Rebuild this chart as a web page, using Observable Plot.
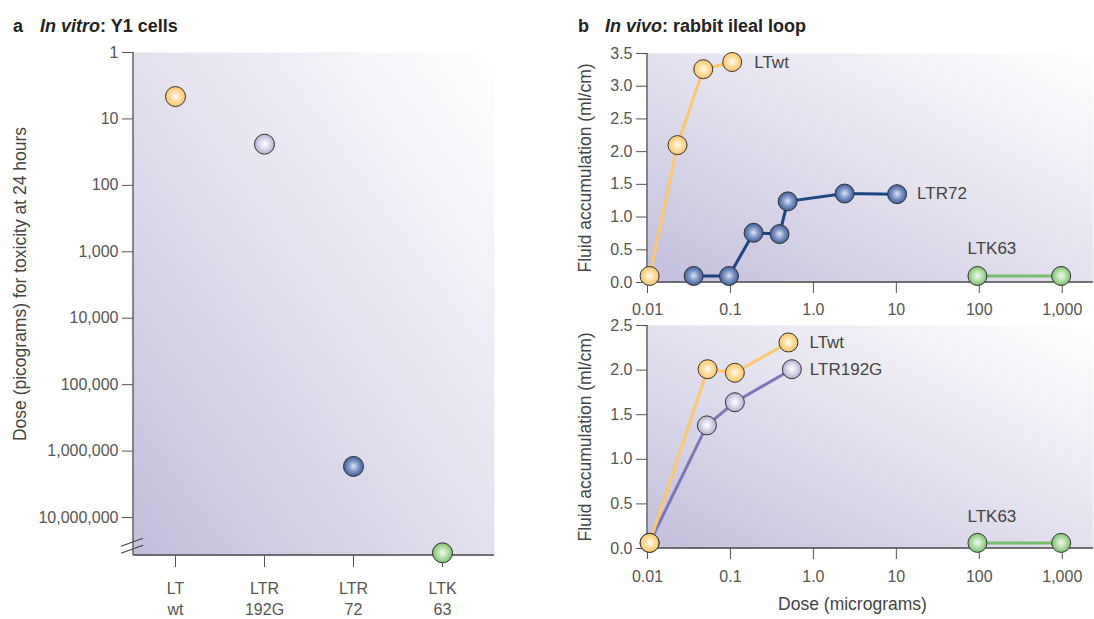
<!DOCTYPE html>
<html><head><meta charset="utf-8">
<script src="https://cdn.jsdelivr.net/npm/d3@7"></script>
<script src="https://cdn.jsdelivr.net/npm/@observablehq/plot@0.6"></script>
<style>
body{margin:0;background:#fff;}
#root{position:relative;width:1094px;height:619px;overflow:hidden;font-family:"Liberation Sans",Arial,sans-serif;}
.panel{position:absolute;}
.title{position:absolute;font-size:18px;font-weight:bold;color:#222;line-height:18px;white-space:nowrap;}
</style></head><body>
<div id="root">
<svg width="0" height="0" style="position:absolute;left:0;top:0">
<defs>
<linearGradient id="bg" x1="0" y1="1" x2="1" y2="0">
<stop offset="0" stop-color="#c3bedb"/>
<stop offset="0.5" stop-color="#e3e1ee"/>
<stop offset="1" stop-color="#ffffff"/>
</linearGradient>
<radialGradient id="dY" cx="0.5" cy="0.5" r="0.5" fx="0.5" fy="0.48">
<stop offset="0" stop-color="#fffaf0"/><stop offset="0.5" stop-color="#fedfa4"/><stop offset="1" stop-color="#fcc567"/>
</radialGradient>
<radialGradient id="dB" cx="0.5" cy="0.5" r="0.5" fx="0.5" fy="0.48">
<stop offset="0" stop-color="#dfe6f4"/><stop offset="0.45" stop-color="#8aa0cb"/><stop offset="1" stop-color="#3e5c9a"/>
</radialGradient>
<radialGradient id="dP" cx="0.5" cy="0.5" r="0.5" fx="0.5" fy="0.48">
<stop offset="0" stop-color="#ffffff"/><stop offset="0.5" stop-color="#dddbeb"/><stop offset="1" stop-color="#b3aed2"/>
</radialGradient>
<radialGradient id="dG" cx="0.5" cy="0.5" r="0.5" fx="0.5" fy="0.48">
<stop offset="0" stop-color="#f0faeb"/><stop offset="0.5" stop-color="#b8e0ae"/><stop offset="1" stop-color="#7cc072"/>
</radialGradient>
</defs></svg>
<div class="title" style="left:13px;top:17px">a</div>
<div class="title" style="left:40px;top:17px"><i>In vitro</i>: Y1 cells</div>
<div class="title" style="left:578px;top:17px">b</div>
<div class="title" style="left:605px;top:17px"><i>In vivo</i>: rabbit ileal loop</div>
<div id="pa" class="panel" style="left:0;top:0"></div>
<div id="pb1" class="panel" style="left:560px;top:0"></div>
<div id="pb2" class="panel" style="left:560px;top:310px"></div>
</div>
<script>
// ---------- Panel a: in vitro ----------
const mutantLabels = ["LT\nwt", "LTR\n192G", "LTR\n72", "LTK\n63"];
const mutantKeys = ["LTwt", "LTR192G", "LTR72", "LTK63"];
const toxicDose = [4.6, 24, 1.7e6, 3.4e7];
const doseTicksA = [1, 10, 100, 1000, 1e4, 1e5, 1e6, 1e7];
const breakValueA = 2.4e7;

// ---------- Panel b (top) ----------
const t_LTwt_dose = [0.0106, 0.023, 0.047, 0.105];
const t_LTwt_fluid = [0.10, 2.10, 3.26, 3.37];
const t_LTR72_dose = [0.036, 0.096, 0.19, 0.39, 0.49, 2.38, 10.2];
const t_LTR72_fluid = [0.10, 0.10, 0.76, 0.74, 1.24, 1.36, 1.35];
const t_LTK63_dose = [95, 970];
const t_LTK63_fluid = [0.10, 0.10];

// ---------- Panel b (bottom) ----------
const b_LTwt_dose = [0.0106, 0.053, 0.113, 0.5];
const b_LTwt_fluid = [0.063, 2.01, 1.97, 2.31];
const b_LTR192G_dose = [0.0106, 0.052, 0.113, 0.55];
const b_LTR192G_fluid = [0.063, 1.38, 1.64, 2.01];
const b_LTK63_dose = [95, 970];
const b_LTK63_fluid = [0.063, 0.063];

const xTicks = [0.01, 0.1, 1, 10, 100, 1000];
const xTickLabels = ["0.01", "0.1", "1.0", "10", "100", "1,000"];
const yTicksTop = [0, 0.5, 1, 1.5, 2, 2.5, 3, 3.5];
const yTicksBottom = [0, 0.5, 1, 1.5, 2, 2.5];

const yLabelA = "Dose (picograms) for toxicity at 24 hours";
const yLabelB = "Fluid accumulation (ml/cm)";
const xLabelB = "Dose (micrograms)";

// styles
const dotFill = {LTwt: "url(#dY)", LTR192G: "url(#dP)", LTR72: "url(#dB)", LTK63: "url(#dG)"};
const lineColor = {LTwt: "#fcc86e", LTR192G: "#7f75b7", LTR72: "#1b4682", LTK63: "#74c06c"};
const FONT = "'Liberation Sans', Arial, sans-serif";
const TXT = "#444";
const TICKFS = 16;

const zip = (xs, ys) => xs.map((x, i) => ({dose: x, fluid: ys[i]}));

const axisLines = (index, scales, values, dims) => {
  const {width, height, marginLeft, marginRight, marginTop, marginBottom} = dims;
  const g = d3.create("svg:g").attr("stroke", "#4a4a4a").attr("stroke-width", 1.3).attr("fill", "none");
  g.append("line").attr("x1", marginLeft).attr("x2", marginLeft).attr("y1", marginTop).attr("y2", height - marginBottom);
  g.append("line").attr("x1", marginLeft).attr("x2", width - marginRight).attr("y1", height - marginBottom).attr("y2", height - marginBottom);
  return g.node();
};

const axisBreak = (yVal) => (index, scales, values, dims) => {
  const y = scales.y(yVal), x = dims.marginLeft;
  const g = d3.create("svg:g").attr("stroke", "#444").attr("stroke-width", 1.1);
  g.append("line").attr("x1", x - 12).attr("y1", y + 4).attr("x2", x + 10).attr("y2", y - 4);
  g.append("line").attr("x1", x - 12).attr("y1", y + 11).attr("x2", x + 10).attr("y2", y + 3);
  return g.node();
};

// ---- Panel a ----
const dataA = mutantLabels.map((m, i) => ({mutant: m, key: mutantKeys[i], dose: toxicDose[i]}));
const plotA = Plot.plot({
  width: 540, height: 619,
  marginTop: 52, marginRight: 46, marginBottom: 64, marginLeft: 133,
  style: {fontFamily: FONT, background: "none", overflow: "visible"},
  x: {type: "point", domain: mutantLabels, padding: 0.52, align: 0.45},
  y: {type: "log", domain: [1, 3.73e7], reverse: true},
  color: {type: "identity"},
  marks: [
    Plot.frame({fill: "url(#bg)", stroke: null}),
    Plot.axisY({ticks: doseTicksA, tickFormat: d3.format(","), tickSize: 11, tickPadding: 4, fontSize: TICKFS, color: "#555", label: null}),
    Plot.axisX({tickFormat: d => d, tickSize: 12, tickPadding: 12, fontSize: TICKFS, lineHeight: 1.3, color: "#555", label: null}),
    axisLines,
    axisBreak(breakValueA),
    Plot.text([yLabelA], {text: d => d, frameAnchor: "left", textAnchor: "middle", rotate: -90, dx: -113, dy: -20, fontSize: 17.5, fill: TXT}),
    Plot.dot(dataA, {x: "mutant", y: "dose", r: 10, fill: d => dotFill[d.key], stroke: "#333", strokeWidth: 1})
  ]
});
document.getElementById("pa").appendChild(plotA);

// ---- Panel b helpers ----
function lineMark(key, data) {
  return Plot.line(data, {x: "dose", y: "fluid", stroke: lineColor[key], strokeWidth: 3});
}
function dotMarks(key, data, r = 9.5) {
  return Plot.dot(data, {x: "dose", y: "fluid", r, fill: dotFill[key], stroke: "#333", strokeWidth: 1});
}
function labelMark(name, datum, dx, dy) {
  return Plot.text([datum], {x: "dose", y: "fluid", text: () => name, dx, dy, textAnchor: "start", fontSize: 17, fill: TXT});
}

const xScaleB = {type: "log", domain: [0.01, 2380]};

// ---- Panel b top ----
const tLTwt = zip(t_LTwt_dose, t_LTwt_fluid);
const tLTR72 = zip(t_LTR72_dose, t_LTR72_fluid);
const tLTK63 = zip(t_LTK63_dose, t_LTK63_fluid);
const plotB1 = Plot.plot({
  width: 534, height: 310,
  marginTop: 53, marginRight: 1, marginBottom: 28, marginLeft: 87,
  style: {fontFamily: FONT, background: "none", overflow: "visible"},
  x: xScaleB,
  y: {domain: [0, 3.5]},
  marks: [
    Plot.frame({fill: "url(#bg)", stroke: null}),
    Plot.axisY({ticks: yTicksTop, tickFormat: d3.format(".1f"), tickSize: 11, tickPadding: 4, fontSize: TICKFS, color: "#555", label: null}),
    Plot.axisX({ticks: xTicks, tickFormat: d => xTickLabels[xTicks.indexOf(d)], tickSize: 11, tickPadding: 10, fontSize: TICKFS, color: "#555", label: null}),
    axisLines,
    Plot.text([yLabelB], {text: d => d, frameAnchor: "left", textAnchor: "middle", rotate: -90, dx: -62, fontSize: 17.5, fill: TXT}),
    lineMark("LTR72", tLTR72),
    lineMark("LTK63", tLTK63),
    lineMark("LTwt", tLTwt),
    dotMarks("LTR72", tLTR72),
    dotMarks("LTK63", tLTK63),
    dotMarks("LTwt", tLTwt),
    labelMark("LTwt", tLTwt[tLTwt.length - 1], 22, 1),
    labelMark("LTR72", tLTR72[tLTR72.length - 1], 20, -1),
    labelMark("LTK63", tLTK63[0], -10, -27)
  ]
});
document.getElementById("pb1").appendChild(plotB1);

// ---- Panel b bottom ----
const bLTwt = zip(b_LTwt_dose, b_LTwt_fluid);
const bLTR192G = zip(b_LTR192G_dose, b_LTR192G_fluid);
const bLTK63 = zip(b_LTK63_dose, b_LTK63_fluid);
const plotB2 = Plot.plot({
  width: 534, height: 309,
  marginTop: 15, marginRight: 1, marginBottom: 71, marginLeft: 87,
  style: {fontFamily: FONT, background: "none", overflow: "visible"},
  x: xScaleB,
  y: {domain: [0, 2.5]},
  marks: [
    Plot.frame({fill: "url(#bg)", stroke: null}),
    Plot.axisY({ticks: yTicksBottom, tickFormat: d3.format(".1f"), tickSize: 11, tickPadding: 4, fontSize: TICKFS, color: "#555", label: null}),
    Plot.axisX({ticks: xTicks, tickFormat: d => xTickLabels[xTicks.indexOf(d)], tickSize: 11, tickPadding: 11, fontSize: TICKFS, color: "#555", label: null}),
    axisLines,
    Plot.text([yLabelB], {text: d => d, frameAnchor: "left", textAnchor: "middle", rotate: -90, dx: -62, fontSize: 17.5, fill: TXT}),
    Plot.text([xLabelB], {text: d => d, frameAnchor: "bottom", textAnchor: "middle", dx: -18, dy: 61.5, fontSize: 17.5, fill: TXT}),
    lineMark("LTR192G", bLTR192G),
    lineMark("LTK63", bLTK63),
    lineMark("LTwt", bLTwt),
    dotMarks("LTR192G", bLTR192G),
    dotMarks("LTK63", bLTK63),
    dotMarks("LTwt", bLTwt),
    labelMark("LTwt", bLTwt[bLTwt.length - 1], 21, 0),
    labelMark("LTR192G", bLTR192G[bLTR192G.length - 1], 18, 0),
    labelMark("LTK63", bLTK63[0], -10, -26)
  ]
});
document.getElementById("pb2").appendChild(plotB2);
</script>
</body></html>
